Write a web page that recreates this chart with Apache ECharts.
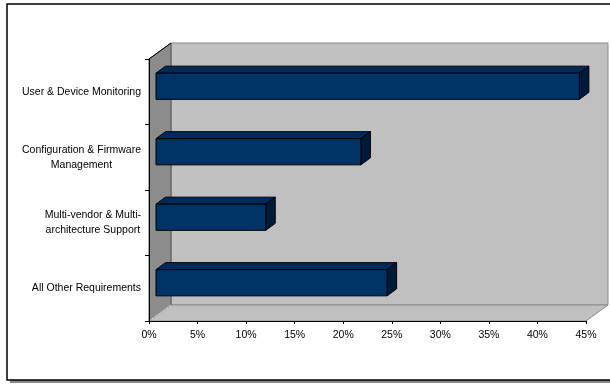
<!DOCTYPE html>
<html><head><meta charset="utf-8">
<script src="https://cdn.jsdelivr.net/npm/echarts@6/dist/echarts.min.js"></script>
<style>html,body{margin:0;padding:0;background:#fff}#c{width:610px;height:385px}</style>
</head><body><div id="c"></div>
<script>
// ---- data ----
const categories = ['User & Device Monitoring', 'Configuration & Firmware\nManagement', 'Multi-vendor & Multi-\narchitecture Support', 'All Other Requirements'];
const values = [43.6, 21.1, 11.3, 23.8];
const xTickValues = [0, 5, 10, 15, 20, 25, 30, 35, 40, 45];

const xMin = xTickValues[0], xMax = xTickValues[xTickValues.length - 1], xStep = xTickValues[1] - xTickValues[0];
const FONT = 'Liberation Sans, Arial, sans-serif';
const DEPTH = [22, -16];

function wallsRender(params, api) {
  const band = api.size([0, 1])[1];
  const pTop = api.coord([xMin, 0]);
  const pBot = api.coord([xMin, categories.length - 1]);
  const top = pTop[1] - band / 2, bottom = pBot[1] + band / 2;
  const xl = pTop[0], xr = api.coord([xMax, 0])[0];
  const dx = DEPTH[0], dy = DEPTH[1];
  return {
    type: 'group',
    children: [
      { type: 'polygon', shape: { points: [[xl + dx, top + dy], [xr + dx, top + dy], [xr + dx, bottom + dy], [xl + dx, bottom + dy]] },
        style: { fill: '#c0c0c0', stroke: '#8a8a8a', lineWidth: 1 } },
      { type: 'polygon', shape: { points: [[xl, bottom], [xr, bottom], [xr + dx, bottom + dy], [xl + dx, bottom + dy]] },
        style: { fill: '#c0c0c0', stroke: '#8a8a8a', lineWidth: 1 } },
      { type: 'polygon', shape: { points: [[xl, bottom], [xl, top], [xl + dx, top + dy], [xl + dx, bottom + dy]] },
        style: { fill: '#8c8c8c', stroke: '#555', lineWidth: 1 } },
      { type: 'line', shape: { x1: xl, y1: bottom, x2: xl + dx, y2: bottom + dy }, style: { stroke: '#d8d8d8', lineWidth: 1 } },
      { type: 'line', shape: { x1: xl, y1: top, x2: xl + dx, y2: top + dy }, style: { stroke: '#000', lineWidth: 1 } }
    ]
  };
}

function barRender(params, api) {
  const v = api.value(0), c = api.value(1);
  const band = api.size([0, 1])[1];
  const h = band * 0.4;
  const p0 = api.coord([xMin, c]), p1 = api.coord([v, c]);
  const fx = 7, fy = -5.5, bx = 9.5, by = -7;
  const x0 = p0[0] + fx, x1 = p1[0] + fx;
  const yT = p0[1] + fy - h / 2;
  const st = { stroke: '#000', lineWidth: 1, lineJoin: 'miter' };
  return {
    type: 'group',
    children: [
      { type: 'polygon', shape: { points: [[x0, yT], [x1, yT], [x1 + bx, yT + by], [x0 + bx, yT + by]] },
        style: Object.assign({ fill: '#002a5c' }, st) },
      { type: 'polygon', shape: { points: [[x1, yT], [x1 + bx, yT + by], [x1 + bx, yT + h + by], [x1, yT + h]] },
        style: Object.assign({ fill: '#001a3a' }, st) },
      { type: 'rect', shape: { x: x0, y: yT, width: x1 - x0, height: h },
        style: Object.assign({ fill: '#003366' }, st) }
    ]
  };
}

const chart = echarts.init(document.getElementById('c'), null, { renderer: 'canvas' });
chart.setOption({
  animation: false,
  backgroundColor: '#fff',
  textStyle: { fontFamily: FONT },
  graphic: [
    { type: 'rect', z: -10, shape: { x: 10, y: 7, width: 620, height: 376 }, style: { fill: '#888' } },
    { type: 'rect', z: -9, shape: { x: 7, y: 4, width: 620, height: 376 }, style: { fill: '#fff', stroke: '#000', lineWidth: 1.5 } }
  ],
  grid: { left: 149, right: 24, top: 59, bottom: 64, containLabel: false },
  xAxis: {
    type: 'value', min: xMin, max: xMax, interval: xStep, z: 10,
    axisLine: { show: true, lineStyle: { color: '#000', width: 1 } },
    axisTick: { show: true, length: 3, lineStyle: { color: '#000' } },
    splitLine: { show: false },
    axisLabel: { formatter: '{value}%', color: '#000', fontSize: 10.5, fontFamily: FONT, margin: 9 }
  },
  yAxis: {
    type: 'category', data: categories, inverse: true, z: 10,
    axisLine: { show: true, lineStyle: { color: '#000', width: 1 } },
    axisTick: { show: true, length: 4, lineStyle: { color: '#000' } },
    splitLine: { show: false },
    axisLabel: {
      color: '#000', fontSize: 10.5, fontFamily: FONT, margin: 8, align: 'right', lineHeight: 15,
      formatter: function (s) { return s.split('\n').map(l => '{a|' + l + '}').join('\n'); },
      rich: { a: { align: 'center', fontSize: 10.5, fontFamily: FONT, color: '#000', lineHeight: 15 } }
    }
  },
  series: [
    { type: 'custom', z: 3, renderItem: wallsRender, data: [[xMin, 0]], encode: { x: 0, y: 1 }, silent: true, clip: false },
    { type: 'custom', z: 4, renderItem: barRender, data: values.map((v, i) => [v, i]), encode: { x: 0, y: 1 }, clip: false }
  ]
});
</script>
</body></html>
